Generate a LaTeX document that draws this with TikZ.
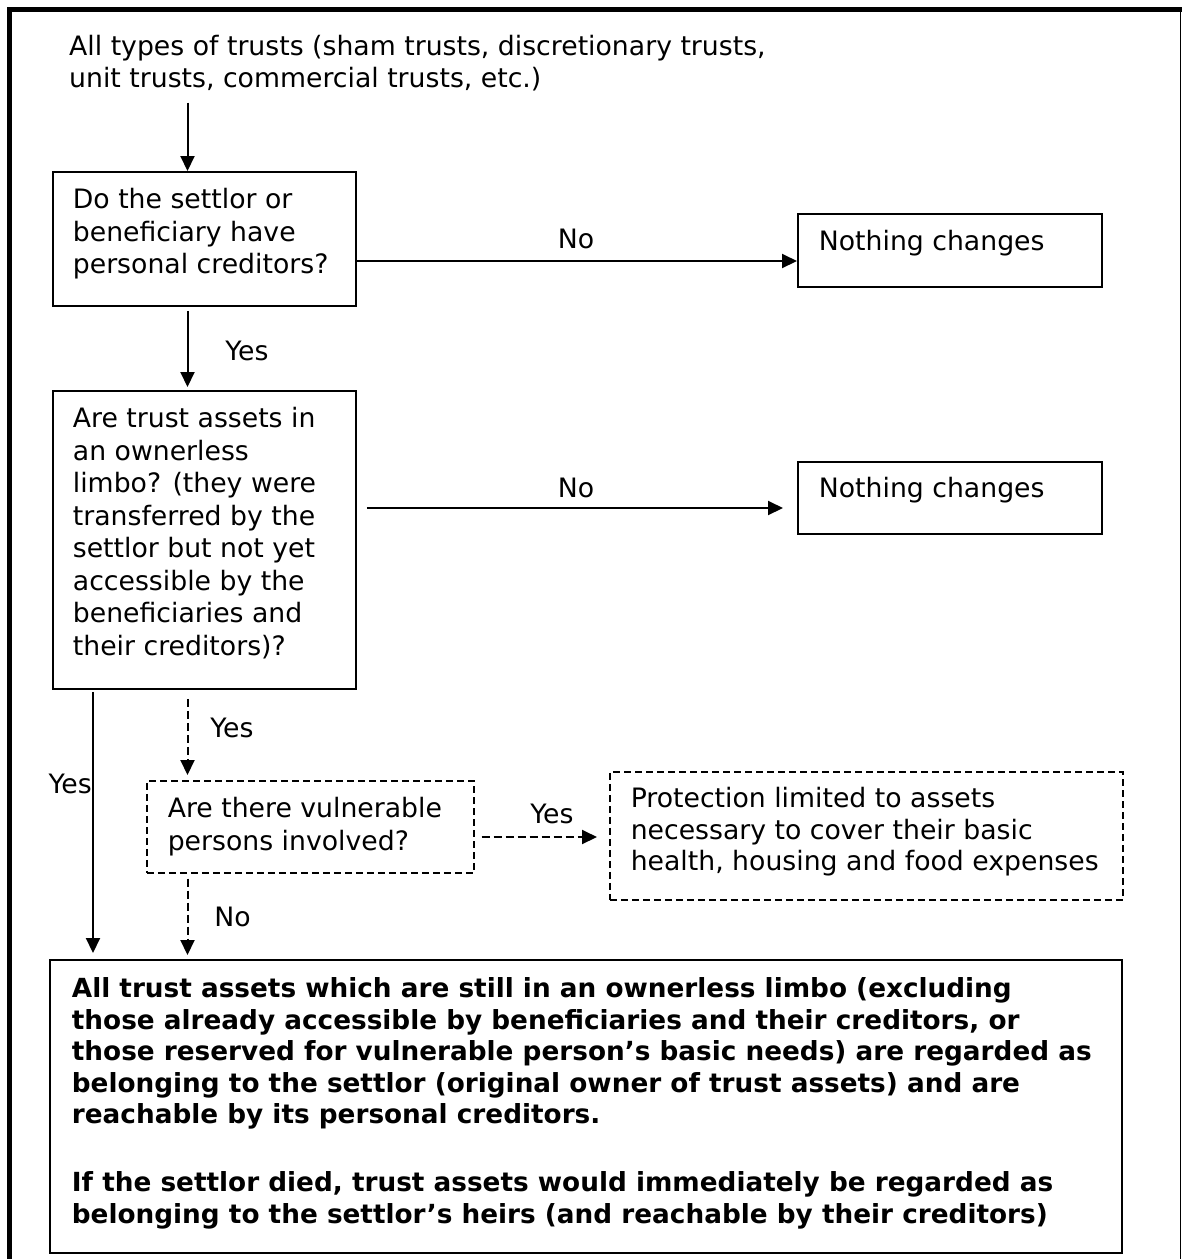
\documentclass[tikz,border=0pt]{standalone}
\usepackage{fontspec}
\setmainfont{DejaVu Sans}
\usetikzlibrary{arrows.meta}
\newcommand\bx[3]{\parbox[t][#2][t]{#1}{\begin{tabular}[t]{@{}l@{}}#3\end{tabular}}}
\tikzset{
  txt/.style={font=\fontsize{26.7}{32.4}\selectfont, inner sep=0pt},
  txtb/.style={font=\fontsize{26.7}{32.5}\selectfont, inner sep=0pt},
  txtc/.style={font=\fontsize{26.7}{31.5}\selectfont, inner sep=0pt},
  txtd/.style={font=\fontsize{26.3}{31.5}\selectfont\bfseries, inner sep=0pt},
  solidbox/.style={draw, line width=1.8pt, anchor=north west},
  dashbox/.style={solidbox, line width=1.5pt, dash pattern=on 7pt off 4pt},
  arr/.style={line width=2pt, -{Triangle[length=15pt,width=14pt]}},
  darr/.style={arr, dash pattern=on 8pt off 4pt},
  lbl/.style={txt, anchor=base},
  frame/.style={line width=5pt}
}
\begin{document}
\begin{tikzpicture}[x=1pt,y=-1pt]
\useasboundingbox (0,0) rectangle (1182,1259);
% outer frame
\draw[frame] (7,9.5) -- (1182,9.5);
\draw[frame] (9.5,7) -- (9.5,1259);
\draw[line width=1.5pt] (1180.5,9.5) -- (1180.5,1259);

% nodes
\node[txt, anchor=north west] (top) at (69,32.32)
  {\begin{tabular}[t]{@{}l@{}}All types of trusts (sham trusts, discretionary trusts,\\unit trusts, commercial trusts, etc.)\end{tabular}};

\node[solidbox, txt, inner xsep=20pt, inner ysep=14.32pt] (q1) at (52,171)
  {\bx{263pt}{105.36pt}{Do the settlor or\\beneficiary have\\personal creditors?}};

\node[solidbox, txt, inner xsep=21pt, inner ysep=14.32pt] (nc1) at (797,213)
  {\bx{262pt}{44.36pt}{Nothing changes}};

\node[solidbox, txtb, inner xsep=20pt, inner ysep=14.25pt] (q2) at (52,390)
  {\bx{263pt}{269.5pt}{Are trust assets in\\an ownerless\\limbo? (they were\\transferred by the\\settlor but not yet\\accessible by the\\beneficiaries and\\their creditors)?}};

\node[solidbox, txt, inner xsep=21pt, inner ysep=13.32pt] (nc2) at (797,461)
  {\bx{262pt}{45.36pt}{Nothing changes}};

\node[dashbox, txt, inner xsep=21pt, inner ysep=14.32pt] (vul) at (146,780)
  {\bx{285pt}{63.36pt}{Are there vulnerable\\persons involved?}};

\node[dashbox, txtc, inner xsep=21pt, inner ysep=13.95pt] (prot) at (609,771)
  {\bx{471pt}{100.1pt}{Protection limited to assets\\necessary to cover their basic\\health, housing and food expenses}};

\node[solidbox, txtd, inner xsep=22pt, inner ysep=15.95pt] (fin) at (49,959)
  {\bx{1028pt}{261.1pt}{All trust assets which are still in an ownerless limbo (excluding\\those already accessible by beneficiaries and their creditors, or\\those reserved for vulnerable person’s basic needs) are regarded as\\belonging to the settlor (original owner of trust assets) and are\\reachable by its personal creditors.\\[36.5pt]If the settlor died, trust assets would immediately be regarded as\\belonging to the settlor’s heirs (and reachable by their creditors)}};

% helper coordinates
\coordinate (colA) at (93,0);
\coordinate (colB) at (187.5,0);
\coordinate (rowN1) at (0,261);
\coordinate (rowN2) at (0,508);
\coordinate (rowY) at (0,837);

% connectors
\draw[arr] ([yshift=-5pt]top.south -| colB) -- (q1.north -| colB);
\draw[arr] (q1.east |- rowN1) -- (nc1.west |- rowN1);
\draw[arr, shorten <=4pt, shorten >=3pt] (q1.south -| colB) -- (q2.north -| colB);
\draw[arr, shorten <=10pt, shorten >=14pt] (q2.east |- rowN2) -- (nc2.west |- rowN2);
\draw[arr, shorten <=2pt, shorten >=6pt] (q2.south -| colA) -- (fin.north -| colA);
\draw[darr, shorten <=9pt, shorten >=5pt] (q2.south -| colB) -- (vul.north -| colB);
\draw[darr, shorten <=7pt, shorten >=12pt] (vul.east |- rowY) -- (prot.west |- rowY);
\draw[darr, shorten <=5pt, shorten >=4pt] (vul.south -| colB) -- (fin.north -| colB);

% labels
\node[lbl] (lno1) at (576,248) {No};
\node[lbl] (lno2) at (576,497) {No};
\node[lbl] (lyes1) at (247,360) {Yes};
\node[lbl, anchor=base east] (lyes2) at (92,793) {Yes};
\node[lbl] (lyes3) at (232,737) {Yes};
\node[lbl] (lyes4) at (552,823) {Yes};
\node[lbl] (lno3) at (232.5,926) {No};
\end{tikzpicture}
\end{document}
